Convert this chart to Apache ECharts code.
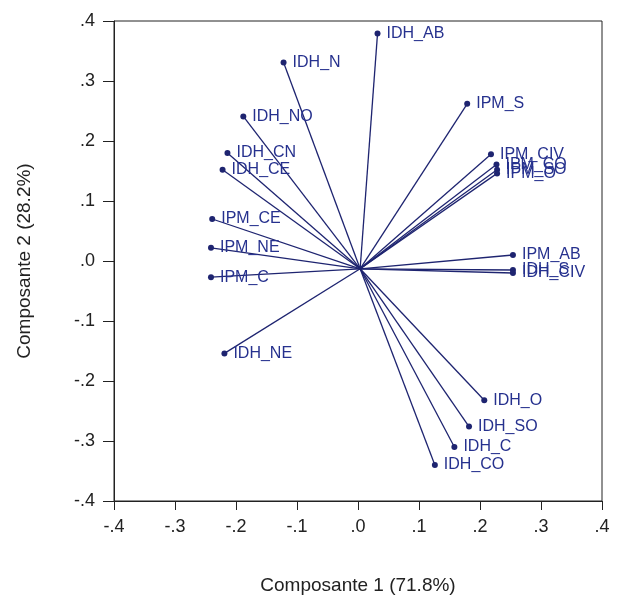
<!DOCTYPE html>
<html>
<head>
<meta charset="utf-8">
<script src="https://cdn.jsdelivr.net/npm/echarts@6/dist/echarts.min.js"></script>
<style>html,body{margin:0;padding:0;background:#fff}#c{width:625px;height:600px}</style>
</head>
<body>
<div id="c"></div>
<script>
// Biplot vectors: names and endpoints (Composante 1, Composante 2)
const names = ['IDH_AB','IDH_N','IPM_S','IDH_NO','IDH_CN','IDH_CE','IPM_CIV','IPM_CO','IPM_SO','IPM_O',
               'IPM_CE','IPM_NE','IPM_C','IPM_AB','IDH_S','IDH_CIV','IDH_NE','IDH_O','IDH_SO','IDH_C','IDH_CO'];
const comp1 = [0.032,-0.122,0.179,-0.188,-0.214,-0.222,0.218,0.227,0.228,0.228,
               -0.239,-0.241,-0.241,0.254,0.254,0.254,-0.219,0.207,0.182,0.158,0.126];
const comp2 = [0.379,0.331,0.262,0.241,0.180,0.152,0.178,0.161,0.152,0.146,
               0.070,0.022,-0.027,0.010,-0.015,-0.020,-0.154,-0.232,-0.276,-0.310,-0.340];
const origin = [0.0035,-0.013];
const ticks = [-0.4,-0.3,-0.2,-0.1,0,0.1,0.2,0.3,0.4];

const lineColor = '#1e2470';
const textColor = '#26318e';
const fmt = v => v.toFixed(1).replace(/^(-?)0\./, '$1.');

const series = names.map((n, i) => ({
  type: 'line',
  name: n,
  silent: true,
  animation: false,
  lineStyle: { color: lineColor, width: 1.3 },
  itemStyle: { color: lineColor },
  symbol: 'circle',
  symbolSize: 6,
  data: [
    { value: origin, symbol: 'none' },
    { value: [comp1[i], comp2[i]],
      label: { show: true, position: 'right', distance: 6, formatter: n,
               color: textColor, fontSize: 16, fontFamily: 'Arial, Liberation Sans, sans-serif' } }
  ]
}));

const chart = echarts.init(document.getElementById('c'), null, { renderer: 'canvas' });
chart.setOption({
  animation: false,
  grid: { left: 114, right: 23, top: 21, bottom: 90, show: true, borderColor: '#222', borderWidth: 1 },
  xAxis: {
    type: 'value', min: ticks[0], max: ticks[ticks.length-1], interval: 0.1,
    name: 'Composante 1 (71.8%)', nameLocation: 'middle', nameGap: 75,
    nameTextStyle: { fontSize: 19, color: '#222', fontFamily: 'Arial, Liberation Sans, sans-serif' },
    axisLine: { show: true, onZero: false, lineStyle: { color: '#222', width: 1 } },
    axisTick: { show: true, inside: false, length: 9, lineStyle: { color: '#222' } },
    axisLabel: { formatter: fmt, fontSize: 18, color: '#222', margin: 17, fontFamily: 'Arial, Liberation Sans, sans-serif' },
    splitLine: { show: false }
  },
  yAxis: {
    type: 'value', min: ticks[0], max: ticks[ticks.length-1], interval: 0.1,
    name: 'Composante 2 (28.2%)', nameLocation: 'middle', nameGap: 80, nameRotate: 90,
    nameTextStyle: { fontSize: 19, color: '#222', fontFamily: 'Arial, Liberation Sans, sans-serif' },
    axisLine: { show: true, onZero: false, lineStyle: { color: '#222', width: 1 } },
    axisTick: { show: true, inside: false, length: 11, lineStyle: { color: '#222' } },
    axisLabel: { formatter: fmt, fontSize: 18, color: '#222', margin: 19, fontFamily: 'Arial, Liberation Sans, sans-serif' },
    splitLine: { show: false }
  },
  series: series
});
</script>
</body>
</html>
